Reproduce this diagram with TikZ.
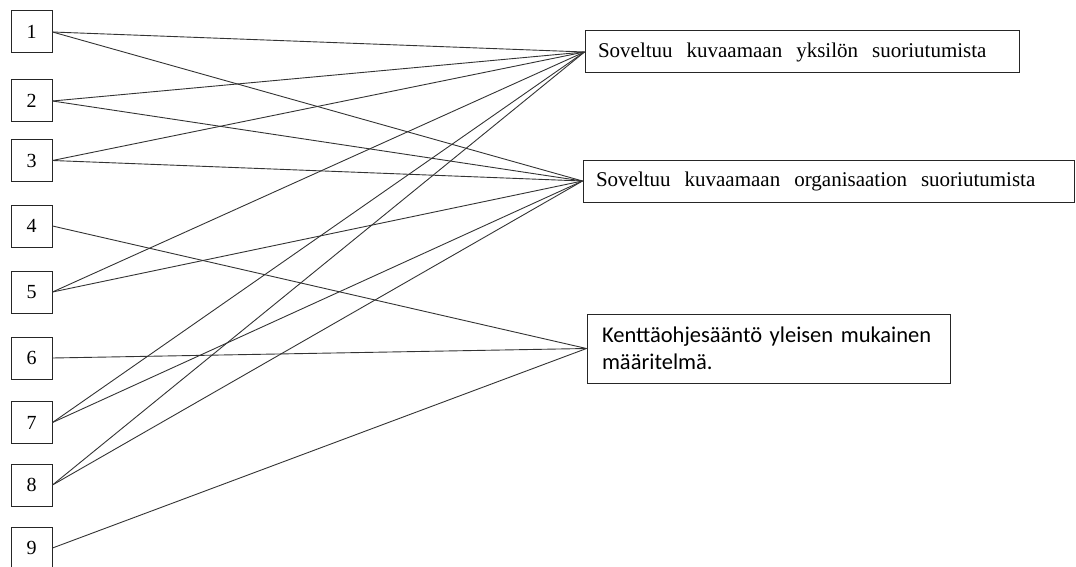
\documentclass[tikz,border=0pt]{standalone}
\usepackage{fontspec}
\setmainfont{Liberation Serif}
\newfontfamily\calibrilike{Carlito}
\newcommand\widewords{\spaceskip=14pt plus 2pt\relax}
\begin{document}
\begin{tikzpicture}[x=1pt,y=-1pt,
  numbox/.style={draw=black!85,line width=1pt,minimum width=41pt,minimum height=42pt,inner sep=0pt,font=\fontsize{20}{22}\selectfont},
  catbox/.style={draw=black!85,line width=1pt,minimum height=42pt,inner xsep=13pt,inner ysep=0pt,align=left,font=\fontsize{21}{23}\selectfont,execute at begin node=\widewords},
  defbox/.style={draw=black!85,line width=1pt,minimum height=69pt,inner xsep=15pt,inner ysep=0pt,align=left,font=\calibrilike\fontsize{22.5}{26.5}\selectfont},
  link/.style={draw=black!80,line width=0.9pt}]
\useasboundingbox (0,0) rectangle (1076,567);
% numbered items on the left
\node[numbox] (n1) at (31.5,32) {1};
\node[numbox] (n2) at (31.5,101) {2};
\node[numbox] (n3) at (31.5,160.5) {3};
\node[numbox] (n4) at (31.5,226) {4};
\node[numbox] (n5) at (31.5,292) {5};
\node[numbox] (n6) at (31.5,358) {6};
\node[numbox] (n7) at (31.5,422.5) {7};
\node[numbox] (n8) at (31.5,485) {8};
\node[numbox] (n9) at (31.5,548) {9};
% categories on the right
\node[catbox,text width=408pt] (ca) at (802,52) {Soveltuu kuvaamaan yksilön suoriutumista};
\node[catbox,text width=465pt] (cb) at (828.5,181) {Soveltuu kuvaamaan organisaation suoriutumista};
\node[defbox,text width=333pt] (cc) at (768.5,348.5) {Kenttäohjesääntö yleisen mukainen\\määritelmä.};
% connections
\foreach \n in {n1,n2,n3,n5,n7,n8} {
  \draw[link] (\n.east) -- (ca.west);
  \draw[link] (\n.east) -- (cb.west);
}
\foreach \n in {n4,n6,n9} {
  \draw[link] (\n.east) -- (cc.west);
}
\end{tikzpicture}
\end{document}
